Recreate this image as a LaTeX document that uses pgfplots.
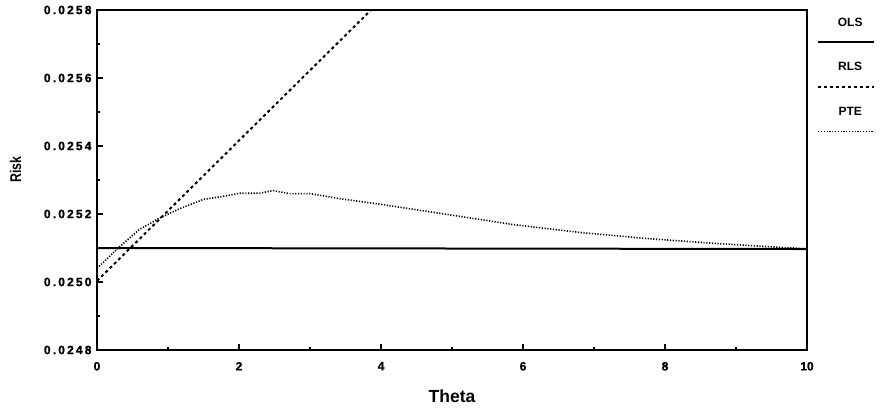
\documentclass[border=0pt]{standalone}
\usepackage{fontspec}
\setmainfont{Liberation Sans}
\newfontfamily\ytickfont{Liberation Sans}[LetterSpace=18, FakeBold=1.2]
\newfontfamily\xtickfont{Liberation Sans}[FakeBold=1.2]
\newfontfamily\risklabelfont{Liberation Sans}[FakeStretch=0.8]
\usepackage{pgfplots}
\pgfplotsset{compat=1.18}
\usepackage{pgfplotstable}

\pgfplotstableread{
x y
0 0.025100
10 0.025097
}\olsdata

\pgfplotstableread{
x y
0 0.025003
4 0.025829
}\rlsdata

\pgfplotstableread{
x y
0.00 0.025040
0.32 0.025104
0.60 0.025155
0.89 0.025189
1.17 0.025216
1.50 0.025243
1.78 0.025252
2.01 0.025261
2.29 0.025261
2.48 0.025269
2.71 0.025260
3.00 0.025260
3.42 0.025245
3.98 0.025229
4.92 0.025199
5.86 0.025169
6.79 0.025146
7.73 0.025128
8.67 0.025114
9.61 0.025102
10.0 0.025098
}\ptedata

\begin{document}
\begin{tikzpicture}
\begin{axis}[
  scale only axis,
  width=710pt, height=340pt,
  xmin=0, xmax=10, ymin=0.0248, ymax=0.0258,
  xtick={0,2,4,6,8,10}, minor x tick num=1,
  ytick={0.0248,0.0250,0.0252,0.0254,0.0256,0.0258}, minor y tick num=1,
  scaled y ticks=false,
  /pgf/number format/assume math mode=true,
  yticklabel={\pgfmathprintnumber[fixed,fixed zerofill,precision=4]{\tick}},
  tick align=inside, tick pos=left,
  major tick length=6pt, minor tick length=3pt,
  every tick/.style={line width=1.2pt, black},
  axis line style={line width=1.5pt},
  xticklabel style={font=\fontsize{12}{14}\selectfont\xtickfont\bfseries, yshift=-8.5pt},
  yticklabel style={font=\fontsize{12}{14}\selectfont\ytickfont\bfseries, xshift=-2pt},
  xlabel={Theta}, ylabel={Risk},
  xlabel style={font=\fontsize{17.5}{19}\selectfont\bfseries, at={(axis description cs:0.5,-0.1353)}, anchor=center},
  ylabel style={font=\fontsize{15.5}{17}\selectfont\risklabelfont\bfseries, at={(axis description cs:-0.1148,0.5309)}, anchor=center},
  legend style={at={(axis description cs:1,1)}, anchor=north west, xshift=10pt, yshift=-5.5pt,
    draw=none, fill=none, inner sep=0pt, row sep=31pt, column sep=0pt,
    font=\fontsize{12}{14}\selectfont\bfseries},
  legend cell align=left,
  legend image code/.code={\useasboundingbox (0pt,0pt) rectangle (0pt,0pt); \draw[#1] (0pt,-19pt) -- (56pt,-19pt);},
  clip=true,
]
\addplot[black, line width=2pt] table[x=x,y=y] {\olsdata};
\addlegendentry{\makebox[58pt]{OLS}}
\addplot[black, line width=2pt, dash pattern=on 3pt off 3pt] table[x=x,y=y] {\rlsdata};
\addlegendentry{\makebox[58pt]{RLS}}
\addplot[black, line width=1.6pt, dash pattern=on 1.2pt off 1.6pt] table[x=x,y=y] {\ptedata};
\addlegendentry{\makebox[58pt]{PTE}}
\end{axis}
\pgfresetboundingbox
\path ([shift={(-97pt,-59pt)}]current axis.south west) rectangle ([shift={(73pt,10pt)}]current axis.north east);
\end{tikzpicture}
\end{document}
